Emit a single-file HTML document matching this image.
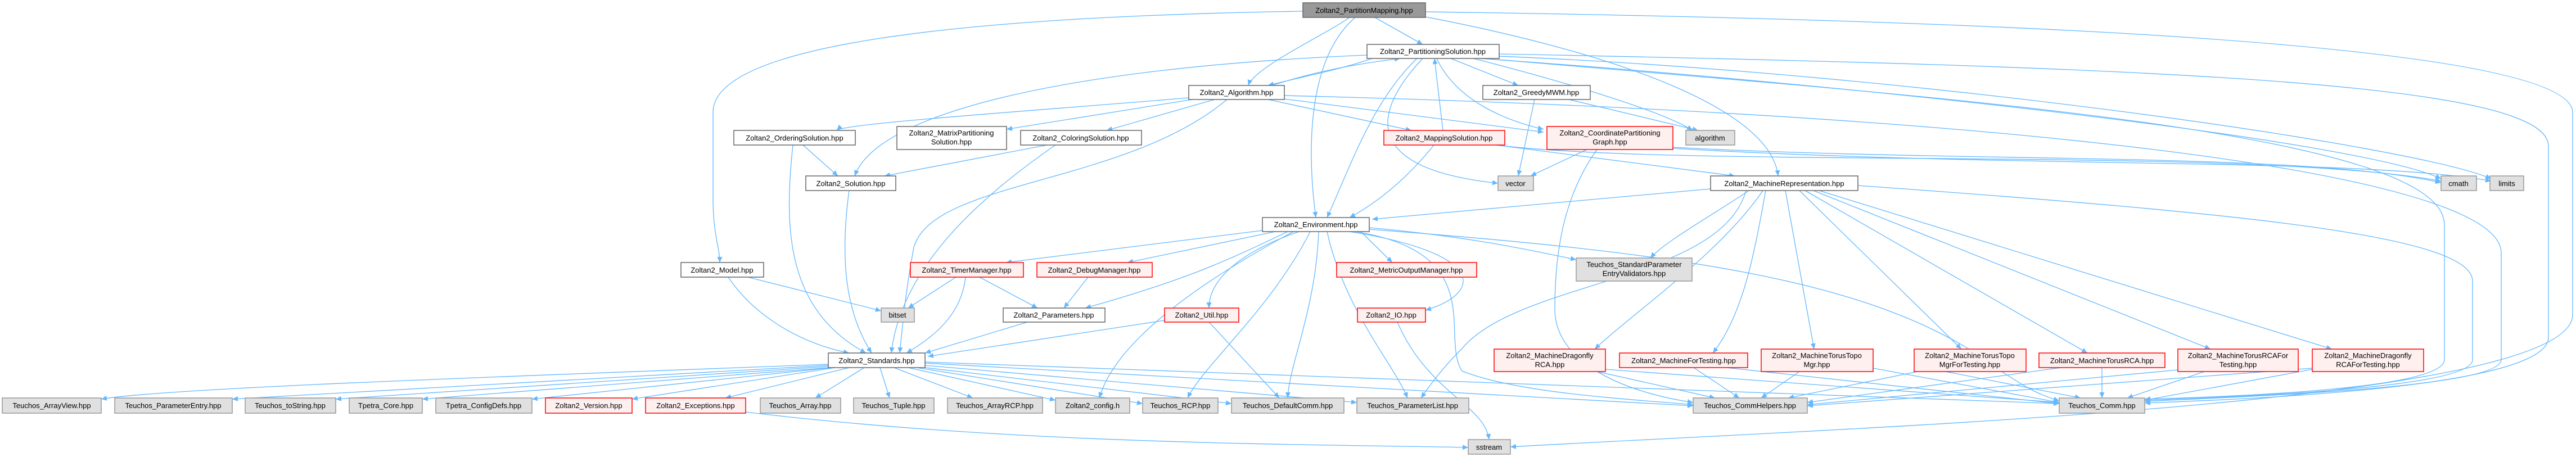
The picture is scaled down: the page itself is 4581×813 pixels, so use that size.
<!DOCTYPE html>
<html><head><meta charset="utf-8"><style>
html,body{margin:0;padding:0;background:#fff;}
svg{display:block;}
text{font-family:"Liberation Sans","DejaVu Sans",sans-serif;font-size:13px;fill:#000;text-anchor:middle;}
.e{fill:none;stroke:#63b8ff;stroke-width:1.3;marker-end:url(#a);}
.w{fill:#fff;stroke:#666;stroke-width:1.5;}
.g{fill:#e0e0e0;stroke:#999;stroke-width:1.5;}
.r{fill:#fff0f0;stroke:#f00;stroke-width:1.5;}
.m{fill:#999;stroke:#666;stroke-width:1.5;}
</style></head><body>
<svg width="4581" height="813" viewBox="0 0 4581 813" xmlns="http://www.w3.org/2000/svg">
<defs><marker id="a" markerUnits="userSpaceOnUse" markerWidth="11" markerHeight="9" refX="10" refY="4.5" orient="auto"><path d="M0,0 L10,4.5 L0,9 z" fill="#63b8ff"/></marker></defs>
<g>
<path class="e" d="M2317,20 C1700,30 1268,80 1268,200 L1268,350 C1268,420 1280,440 1280,467"/>
<path class="e" d="M2400,31 C2360,60 2230,120 2220,152"/>
<path class="e" d="M2410,31 C2330,100 2322,250 2340,387"/>
<path class="e" d="M2445,31 L2530,79"/>
<path class="e" d="M2535,30 C2900,100 3150,200 3162,313"/>
<path class="e" d="M2535,21 C3900,40 4575,100 4575,200 L4575,560 C4575,720 3300,760 2686,795"/>
<path class="e" d="M2440,104 C2380,125 2300,140 2255,152"/>
<path class="e" d="M2262,152 C2330,130 2400,115 2490,104"/>
<path class="e" d="M2431,98 C1900,120 1560,200 1520,313"/>
<path class="e" d="M2520,104 C2440,180 2400,300 2360,387"/>
<path class="e" d="M2580,104 L2700,152"/>
<path class="e" d="M2555,104 C2590,180 2680,215 2745,230"/>
<path class="e" d="M2620,104 C2800,150 2960,200 3010,232"/>
<path class="e" d="M2530,104 C2440,200 2420,300 2664,326"/>
<path class="e" d="M2630,104 C3300,150 4200,250 4341,318"/>
<path class="e" d="M2666,100 C3400,130 4300,260 4430,318"/>
<path class="e" d="M2666,96 C3900,120 4532,150 4532,260 L4532,600 C4532,690 4000,710 3814,717"/>
<path class="e" d="M2640,104 C3400,170 4347,230 4347,400 L4347,640 C4347,690 4000,705 3814,710"/>
<path class="e" d="M2114,174 C1800,200 1500,220 1488,232"/>
<path class="e" d="M2120,177 L1790,230"/>
<path class="e" d="M2160,177 L1968,232"/>
<path class="e" d="M2182,177 C2000,330 1660,320 1625,440 C1610,520 1605,580 1600,628"/>
<path class="e" d="M2255,177 L2510,232"/>
<path class="e" d="M2284,176 L2745,235"/>
<path class="e" d="M2284,170 C3500,200 4448,300 4448,450 L4448,640 C4448,690 4000,705 3814,714"/>
<path class="e" d="M1428,258 L1490,313"/>
<path class="e" d="M1410,258 C1395,400 1395,550 1540,628"/>
<path class="e" d="M1862,258 L1573,313"/>
<path class="e" d="M1877,258 C1700,380 1600,500 1585,628"/>
<path class="e" d="M1510,339 C1495,450 1500,550 1550,628"/>
<path class="e" d="M1295,493 C1340,560 1420,610 1510,628"/>
<path class="e" d="M1330,493 L1567,553"/>
<path class="e" d="M1700,493 L1615,548"/>
<path class="e" d="M1717,493 C1710,560 1660,600 1612,628"/>
<path class="e" d="M1742,493 L1845,548"/>
<path class="e" d="M1935,493 L1892,548"/>
<path class="e" d="M1827,573 L1645,628"/>
<path class="e" d="M2071,570 L1650,634"/>
<path class="e" d="M2150,573 L2275,708"/>
<path class="e" d="M2485,573 C2540,700 2640,720 2648,782"/>
<path class="e" d="M1326,733 C1800,790 2300,790 2611,796"/>
<path class="e" d="M2245,410 L1789,467"/>
<path class="e" d="M2268,412 L2005,467"/>
<path class="e" d="M2420,412 L2476,467"/>
<path class="e" d="M2435,405 C2600,420 2700,440 2803,462"/>
<path class="e" d="M2290,412 C2170,470 2100,500 1930,548"/>
<path class="e" d="M2310,412 C2200,450 2150,500 2150,548"/>
<path class="e" d="M2300,412 C2100,520 1980,620 1955,708"/>
<path class="e" d="M2330,412 C2260,550 2140,650 2112,708"/>
<path class="e" d="M2345,412 C2340,550 2292,650 2290,708"/>
<path class="e" d="M2360,412 C2390,550 2480,650 2503,708"/>
<path class="e" d="M2400,412 C2640,450 2640,520 2535,552"/>
<path class="e" d="M2410,412 C2650,450 2560,600 2600,660 C2700,700 2900,710 3011,720"/>
<path class="e" d="M2435,408 C3000,450 3300,500 3500,620 C3600,690 3620,700 3662,713"/>
<path class="e" d="M3042,336 L2440,390"/>
<path class="e" d="M3110,339 C3050,380 2960,430 2935,459"/>
<path class="e" d="M3105,339 C3060,500 2700,500 2600,620 C2560,660 2540,690 2527,708"/>
<path class="e" d="M3135,339 C3060,450 2900,560 2836,621"/>
<path class="e" d="M3140,339 C3120,450 3100,560 3046,628"/>
<path class="e" d="M3175,339 L3226,621"/>
<path class="e" d="M3200,339 L3488,621"/>
<path class="e" d="M3210,339 L3712,628"/>
<path class="e" d="M3225,339 L3931,621"/>
<path class="e" d="M3235,339 L4147,621"/>
<path class="e" d="M3304,330 C4000,380 4397,420 4397,500 L4397,640 C4397,690 4000,705 3814,712"/>
<path class="e" d="M2566,232 L2551,104"/>
<path class="e" d="M2550,258 C2500,320 2450,360 2400,387"/>
<path class="e" d="M2660,258 L3085,313"/>
<path class="e" d="M2660,258 C3000,300 4000,260 4341,322"/>
<path class="e" d="M2822,266 L2722,313"/>
<path class="e" d="M2840,266 C2780,350 2765,450 2765,550 C2765,650 2900,700 3011,716"/>
<path class="e" d="M2975,262 C3500,290 4100,270 4341,325"/>
<path class="e" d="M2975,264 C3600,300 4200,280 4430,322"/>
<path class="e" d="M2729,177 L2700,313"/>
<path class="e" d="M2790,177 L3020,232"/>
<path class="e" d="M1473,648 C900,670 300,690 180,710"/>
<path class="e" d="M1473,650 L413,710"/>
<path class="e" d="M1473,652 L597,710"/>
<path class="e" d="M1475,654 L751,710"/>
<path class="e" d="M1480,654 L946,710"/>
<path class="e" d="M1485,654 L1124,710"/>
<path class="e" d="M1510,654 L1290,708"/>
<path class="e" d="M1537,654 L1450,708"/>
<path class="e" d="M1565,654 L1582,708"/>
<path class="e" d="M1590,654 L1730,708"/>
<path class="e" d="M1615,654 L1877,712"/>
<path class="e" d="M1630,654 L2032,718"/>
<path class="e" d="M1645,654 L2190,718"/>
<path class="e" d="M1645,650 L2413,716"/>
<path class="e" d="M1645,646 L3011,722"/>
<path class="e" d="M1645,644 L3662,718"/>
<path class="e" d="M2840,661 L3050,708"/>
<path class="e" d="M2855,657 L3662,716"/>
<path class="e" d="M3012,654 L3093,708"/>
<path class="e" d="M3070,654 L3662,718"/>
<path class="e" d="M3200,661 L3132,708"/>
<path class="e" d="M3331,655 L3662,716"/>
<path class="e" d="M3410,661 L3180,708"/>
<path class="e" d="M3460,661 L3700,708"/>
<path class="e" d="M3738,654 L3738,708"/>
<path class="e" d="M3665,654 L3214,716"/>
<path class="e" d="M3920,661 L3783,708"/>
<path class="e" d="M3873,658 L3214,720"/>
<path class="e" d="M4112,657 L3814,712"/>
<path class="e" d="M4112,655 L3214,722"/>
</g>
<g>
<rect class="m" x="2317" y="5" width="218" height="26"/><text x="2426" y="23">Zoltan2_PartitionMapping.hpp</text>
<rect class="w" x="2431" y="79" width="235" height="25"/><text x="2548" y="96">Zoltan2_PartitioningSolution.hpp</text>
<rect class="w" x="2114" y="152" width="170" height="25"/><text x="2199" y="169">Zoltan2_Algorithm.hpp</text>
<rect class="w" x="2637" y="152" width="191" height="25"/><text x="2732" y="169">Zoltan2_GreedyMWM.hpp</text>
<rect class="w" x="1305" y="232" width="216" height="26"/><text x="1413" y="250">Zoltan2_OrderingSolution.hpp</text>
<rect class="w" x="1595" y="225" width="195" height="41"/><text x="1692" y="241">Zoltan2_MatrixPartitioning</text><text x="1692" y="257">Solution.hpp</text>
<rect class="w" x="1815" y="232" width="215" height="26"/><text x="1922" y="250">Zoltan2_ColoringSolution.hpp</text>
<rect class="r" x="2461" y="232" width="215" height="26"/><text x="2568" y="250">Zoltan2_MappingSolution.hpp</text>
<rect class="r" x="2751" y="225" width="224" height="41"/><text x="2863" y="241">Zoltan2_CoordinatePartitioning</text><text x="2863" y="257">Graph.hpp</text>
<rect class="g" x="2998" y="232" width="87" height="26"/><text x="3041" y="250">algorithm</text>
<rect class="w" x="1433" y="313" width="160" height="26"/><text x="1513" y="331">Zoltan2_Solution.hpp</text>
<rect class="g" x="2664" y="313" width="63" height="26"/><text x="2695" y="331">vector</text>
<rect class="w" x="3042" y="313" width="262" height="26"/><text x="3173" y="331">Zoltan2_MachineRepresentation.hpp</text>
<rect class="g" x="4341" y="313" width="63" height="26"/><text x="4372" y="331">cmath</text>
<rect class="g" x="4428" y="313" width="60" height="26"/><text x="4458" y="331">limits</text>
<rect class="w" x="2245" y="387" width="190" height="25"/><text x="2340" y="404">Zoltan2_Environment.hpp</text>
<rect class="w" x="1211" y="467" width="147" height="26"/><text x="1284" y="485">Zoltan2_Model.hpp</text>
<rect class="r" x="1619" y="467" width="201" height="26"/><text x="1719" y="485">Zoltan2_TimerManager.hpp</text>
<rect class="r" x="1844" y="467" width="205" height="26"/><text x="1946" y="485">Zoltan2_DebugManager.hpp</text>
<rect class="r" x="2377" y="467" width="249" height="26"/><text x="2501" y="485">Zoltan2_MetricOutputManager.hpp</text>
<rect class="g" x="2803" y="459" width="206" height="41"/><text x="2906" y="475">Teuchos_StandardParameter</text><text x="2906" y="491">EntryValidators.hpp</text>
<rect class="g" x="1567" y="548" width="59" height="25"/><text x="1596" y="565">bitset</text>
<rect class="w" x="1784" y="548" width="181" height="25"/><text x="1874" y="565">Zoltan2_Parameters.hpp</text>
<rect class="r" x="2071" y="548" width="132" height="25"/><text x="2137" y="565">Zoltan2_Util.hpp</text>
<rect class="r" x="2414" y="548" width="121" height="25"/><text x="2474" y="565">Zoltan2_IO.hpp</text>
<rect class="w" x="1473" y="628" width="172" height="26"/><text x="1559" y="646">Zoltan2_Standards.hpp</text>
<rect class="r" x="2657" y="621" width="198" height="40"/><text x="2756" y="637">Zoltan2_MachineDragonfly</text><text x="2756" y="653">RCA.hpp</text>
<rect class="r" x="2880" y="628" width="228" height="26"/><text x="2994" y="646">Zoltan2_MachineForTesting.hpp</text>
<rect class="r" x="3132" y="621" width="199" height="40"/><text x="3231" y="637">Zoltan2_MachineTorusTopo</text><text x="3231" y="653">Mgr.hpp</text>
<rect class="r" x="3404" y="621" width="199" height="40"/><text x="3503" y="637">Zoltan2_MachineTorusTopo</text><text x="3503" y="653">MgrForTesting.hpp</text>
<rect class="r" x="3626" y="628" width="224" height="26"/><text x="3738" y="646">Zoltan2_MachineTorusRCA.hpp</text>
<rect class="r" x="3873" y="621" width="214" height="40"/><text x="3980" y="637">Zoltan2_MachineTorusRCAFor</text><text x="3980" y="653">Testing.hpp</text>
<rect class="r" x="4112" y="621" width="198" height="40"/><text x="4211" y="637">Zoltan2_MachineDragonfly</text><text x="4211" y="653">RCAForTesting.hpp</text>
<rect class="g" x="4" y="708" width="176" height="27"/><text x="92" y="726">Teuchos_ArrayView.hpp</text>
<rect class="g" x="204" y="708" width="209" height="27"/><text x="308" y="726">Teuchos_ParameterEntry.hpp</text>
<rect class="g" x="436" y="708" width="161" height="27"/><text x="516" y="726">Teuchos_toString.hpp</text>
<rect class="g" x="621" y="708" width="130" height="27"/><text x="686" y="726">Tpetra_Core.hpp</text>
<rect class="g" x="775" y="708" width="171" height="27"/><text x="860" y="726">Tpetra_ConfigDefs.hpp</text>
<rect class="r" x="970" y="708" width="154" height="27"/><text x="1047" y="726">Zoltan2_Version.hpp</text>
<rect class="r" x="1148" y="708" width="178" height="27"/><text x="1237" y="726">Zoltan2_Exceptions.hpp</text>
<rect class="g" x="1352" y="708" width="143" height="27"/><text x="1423" y="726">Teuchos_Array.hpp</text>
<rect class="g" x="1518" y="708" width="143" height="27"/><text x="1589" y="726">Teuchos_Tuple.hpp</text>
<rect class="g" x="1685" y="708" width="169" height="27"/><text x="1769" y="726">Teuchos_ArrayRCP.hpp</text>
<rect class="g" x="1877" y="708" width="132" height="27"/><text x="1943" y="726">Zoltan2_config.h</text>
<rect class="g" x="2032" y="708" width="134" height="27"/><text x="2099" y="726">Teuchos_RCP.hpp</text>
<rect class="g" x="2190" y="708" width="200" height="27"/><text x="2290" y="726">Teuchos_DefaultComm.hpp</text>
<rect class="g" x="2413" y="708" width="199" height="27"/><text x="2512" y="726">Teuchos_ParameterList.hpp</text>
<rect class="g" x="3011" y="708" width="203" height="27"/><text x="3112" y="726">Teuchos_CommHelpers.hpp</text>
<rect class="g" x="3662" y="708" width="152" height="27"/><text x="3738" y="726">Teuchos_Comm.hpp</text>
<rect class="g" x="2611" y="782" width="75" height="26"/><text x="2648" y="800">sstream</text>
</g>
</svg>
</body></html>
